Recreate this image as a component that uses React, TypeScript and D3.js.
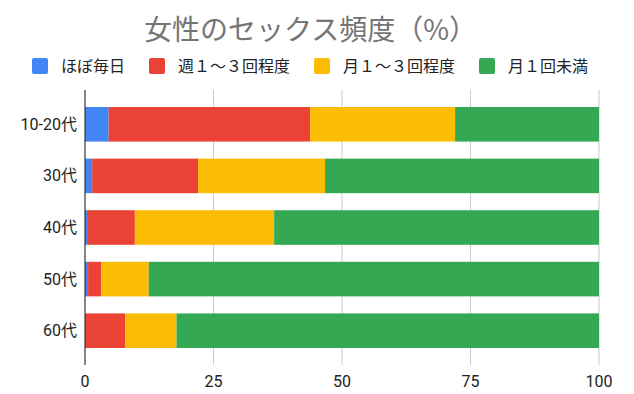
import React from "react";
import * as d3 from "d3";

// age groups (rows)
const ageGroups = ["10-20代", "30代", "40代", "50代", "60代"];

// series, percent per age group
const seriesNames = ["ほぼ毎日", "週１～３回程度", "月１～３回程度", "月１回未満"];
const almostDaily = [4.6, 1.4, 0.4, 0.6, 0];
const weekly1to3 = [39.2, 20.6, 9.3, 2.6, 7.8];
const monthly1to3 = [28.2, 24.7, 27.1, 9.2, 10.0];
const lessThanMonthly = [28.0, 53.3, 63.2, 87.6, 82.2];

const xTicks = [0, 25, 50, 75, 100];

const colors = ["#4285F4", "#EA4335", "#FBBC04", "#34A853"];
const FONT = "Roboto, 'Noto Sans CJK JP', sans-serif";

const W = 634;
const H = 394;

export default function App() {
  const rows = ageGroups.map((g, i) => ({
    group: g,
    [seriesNames[0]]: almostDaily[i],
    [seriesNames[1]]: weekly1to3[i],
    [seriesNames[2]]: monthly1to3[i],
    [seriesNames[3]]: lessThanMonthly[i],
  }));

  const stacked = d3.stack<any>().keys(seriesNames)(rows);

  const x = d3.scaleLinear().domain([0, 100]).range([85, 599]);
  const y = d3
    .scaleBand()
    .domain(ageGroups)
    .range([90, 365])
    .paddingInner(0.33)
    .paddingOuter(0.33);

  // legend layout: square, gap, text, spacing
  const legendFont = 16;
  let lx = 32;
  const legendItems = seriesNames.map((name, i) => {
    const item = { name, x: lx, color: colors[i] };
    lx += 16 + 13 + name.length * legendFont + 24;
    return item;
  });

  return (
    <svg
      width={W}
      height={H}
      style={{ position: "absolute", left: 0, top: 0, background: "#fff" }}
      fontFamily={FONT}
    >
      <text
        x={144}
        y={40}
        fontSize={28}
        fill="#757575"
        fontFamily="'Noto Sans CJK JP', sans-serif"
      >
        女性のセックス頻度（%）
      </text>

      {legendItems.map((d) => (
        <g key={d.name}>
          <rect x={d.x} y={58} width={16} height={16} rx={2} fill={d.color} />
          <text x={d.x + 29} y={72} fontSize={legendFont} fill="#222">
            {d.name}
          </text>
        </g>
      ))}

      {/* gridlines */}
      {xTicks.slice(1).map((t) => (
        <line
          key={t}
          x1={x(t)}
          x2={x(t)}
          y1={90}
          y2={365}
          stroke="#cccccc"
          strokeWidth={1}
        />
      ))}

      {stacked.map((s, si) => (
        <g key={s.key} fill={colors[si]}>
          {s.map((d, i) =>
            d[1] - d[0] > 0 ? (
              <rect
                key={i}
                x={x(d[0])}
                y={y(ageGroups[i])}
                width={x(d[1]) - x(d[0])}
                height={y.bandwidth()}
              />
            ) : null
          )}
        </g>
      ))}

      {/* baseline axis */}
      <line x1={x(0)} x2={x(0)} y1={90} y2={365} stroke="#333" strokeWidth={1.2} />

      {ageGroups.map((g) => (
        <text
          key={g}
          x={77}
          y={(y(g) ?? 0) + y.bandwidth() / 2 + 5.5}
          fontSize={16}
          textAnchor="end"
          fill="#222"
        >
          {g}
        </text>
      ))}

      {xTicks.map((t) => (
        <text key={t} x={x(t)} y={387} fontSize={16} textAnchor="middle" fill="#222">
          {t}
        </text>
      ))}
    </svg>
  );
}
